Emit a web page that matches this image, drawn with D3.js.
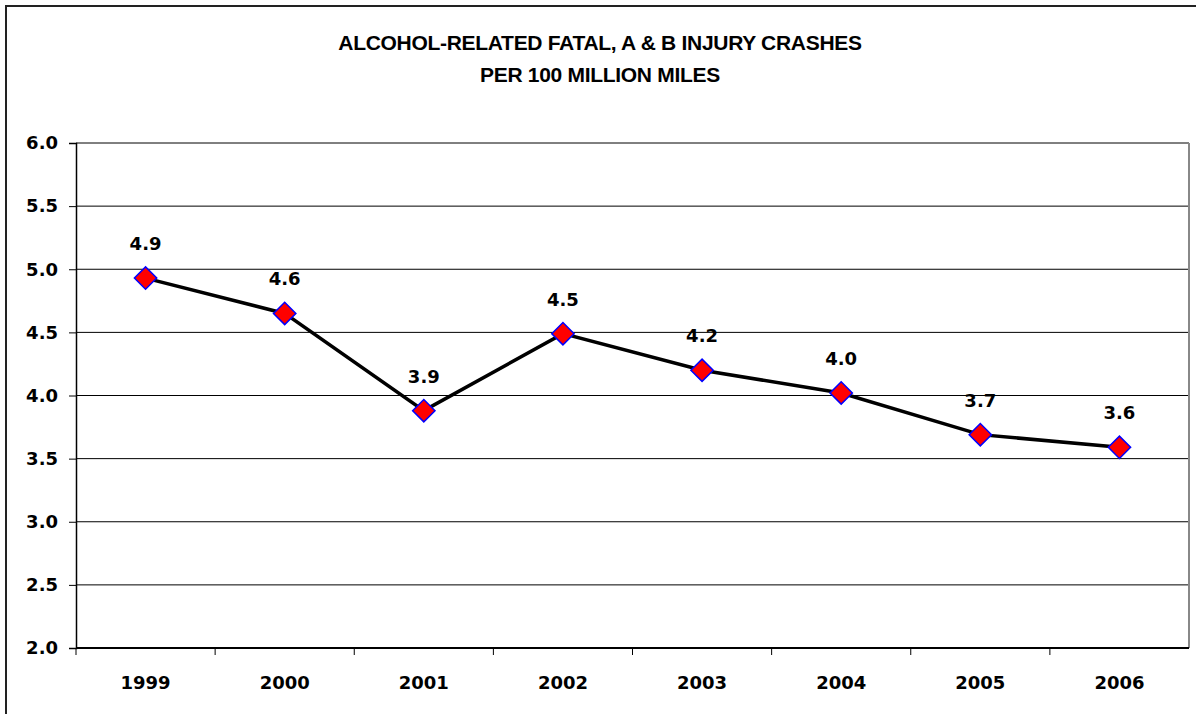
<!DOCTYPE html>
<html>
<head>
<meta charset="utf-8">
<script src="https://cdn.jsdelivr.net/npm/d3@7"></script>
<style>
  body { margin: 0; background: #fff; }
  text { font-family: "DejaVu Sans", Verdana, sans-serif; font-weight: bold; fill: #000; }
</style>
</head>
<body>
<script>
var years = ["1999", "2000", "2001", "2002", "2003", "2004", "2005", "2006"];
var rates = [4.93, 4.65, 3.88, 4.49, 4.20, 4.02, 3.69, 3.59];
var rateLabels = ["4.9", "4.6", "3.9", "4.5", "4.2", "4.0", "3.7", "3.6"];
var yTicks = [2.0, 2.5, 3.0, 3.5, 4.0, 4.5, 5.0, 5.5, 6.0];
var titleLines = ["ALCOHOL-RELATED FATAL, A & B INJURY CRASHES", "PER 100 MILLION MILES"];

window.onload = drawChart();

function drawChart(){
    var w = 1196, h = 714;
    var left = 76, right = 1189, top = 143, bottom = 648;

    var svg = d3.select("body")
        .append("svg")
        .attr("width", w)
        .attr("height", h);

    //outer chart frame, runs off the right and bottom edge
    svg.append("rect")
        .attr("x", 6).attr("y", 6)
        .attr("width", w).attr("height", h)
        .attr("fill", "none")
        .attr("stroke", "#222")
        .attr("stroke-width", 2);

    //title
    svg.selectAll(".title")
        .data(titleLines)
        .enter()
        .append("text")
        .attr("class", "title")
        .attr("x", 600)
        .attr("y", function(d, i){ return 50 + i * 32; })
        .attr("text-anchor", "middle")
        .style("font-family", "'Liberation Sans', Arial, sans-serif")
        .style("font-size", "21px")
        .style("letter-spacing", "-0.3px")
        .text(function(d){ return d; });

    var x = d3.scaleBand()
        .domain(years)
        .range([left, right]);

    var y = d3.scaleLinear()
        .domain([2, 6])
        .range([bottom, top]);

    //gridlines
    svg.selectAll(".grid")
        .data(yTicks)
        .enter()
        .append("line")
        .attr("class", "grid")
        .attr("x1", left).attr("x2", right)
        .attr("y1", function(d){ return y(d); })
        .attr("y2", function(d){ return y(d); })
        .attr("stroke", "#000")
        .attr("stroke-width", 1);

    //plot border right side
    svg.append("line")
        .attr("x1", right).attr("x2", right)
        .attr("y1", top).attr("y2", bottom)
        .attr("stroke", "#888")
        .attr("stroke-width", 2);

    //y axis
    var yAxis = svg.append("g")
        .attr("transform", "translate(" + left + ",0)")
        .call(d3.axisLeft(y).tickValues(yTicks).tickFormat(d3.format(".1f")).tickSize(7).tickPadding(11));
    yAxis.select(".domain").attr("stroke", "#000").attr("stroke-width", 1.5);
    yAxis.selectAll("text").style("font-size", "18px");

    //x axis with ticks between categories
    var xAxis = svg.append("g")
        .attr("transform", "translate(0," + bottom + ")");
    xAxis.append("line")
        .attr("x1", left).attr("x2", right)
        .attr("stroke", "#000")
        .attr("stroke-width", 2);
    xAxis.selectAll(".xtick")
        .data(years)
        .enter()
        .append("line")
        .attr("class", "xtick")
        .attr("x1", function(d){ return x(d); })
        .attr("x2", function(d){ return x(d); })
        .attr("y1", 0).attr("y2", 7)
        .attr("stroke", "#000");
    xAxis.selectAll(".xlabel")
        .data(years)
        .enter()
        .append("text")
        .attr("class", "xlabel")
        .attr("x", function(d){ return x(d) + x.bandwidth() / 2; })
        .attr("y", 41)
        .attr("text-anchor", "middle")
        .style("font-size", "18px")
        .text(function(d){ return d; });

    var cx = function(d, i){ return x(years[i]) + x.bandwidth() / 2; };

    var line = d3.line()
        .x(cx)
        .y(function(d){ return y(d); });

    svg.append("path")
        .datum(rates)
        .attr("d", line)
        .attr("fill", "none")
        .attr("stroke", "#000")
        .attr("stroke-width", 3.5);

    //diamond markers
    svg.selectAll(".marker")
        .data(rates)
        .enter()
        .append("path")
        .attr("class", "marker")
        .attr("d", d3.symbol().type(d3.symbolSquare).size(250))
        .attr("transform", function(d, i){
            return "translate(" + cx(d, i) + "," + y(d) + ") rotate(45)";
        })
        .attr("fill", "#ff0000")
        .attr("stroke", "#0000ff")
        .attr("stroke-width", 1.5);

    //value labels
    svg.selectAll(".vlabel")
        .data(rates)
        .enter()
        .append("text")
        .attr("class", "vlabel")
        .attr("x", cx)
        .attr("y", function(d){ return y(d) - 28; })
        .attr("text-anchor", "middle")
        .style("font-size", "18px")
        .text(function(d, i){ return rateLabels[i]; });
}
</script>
</body>
</html>
